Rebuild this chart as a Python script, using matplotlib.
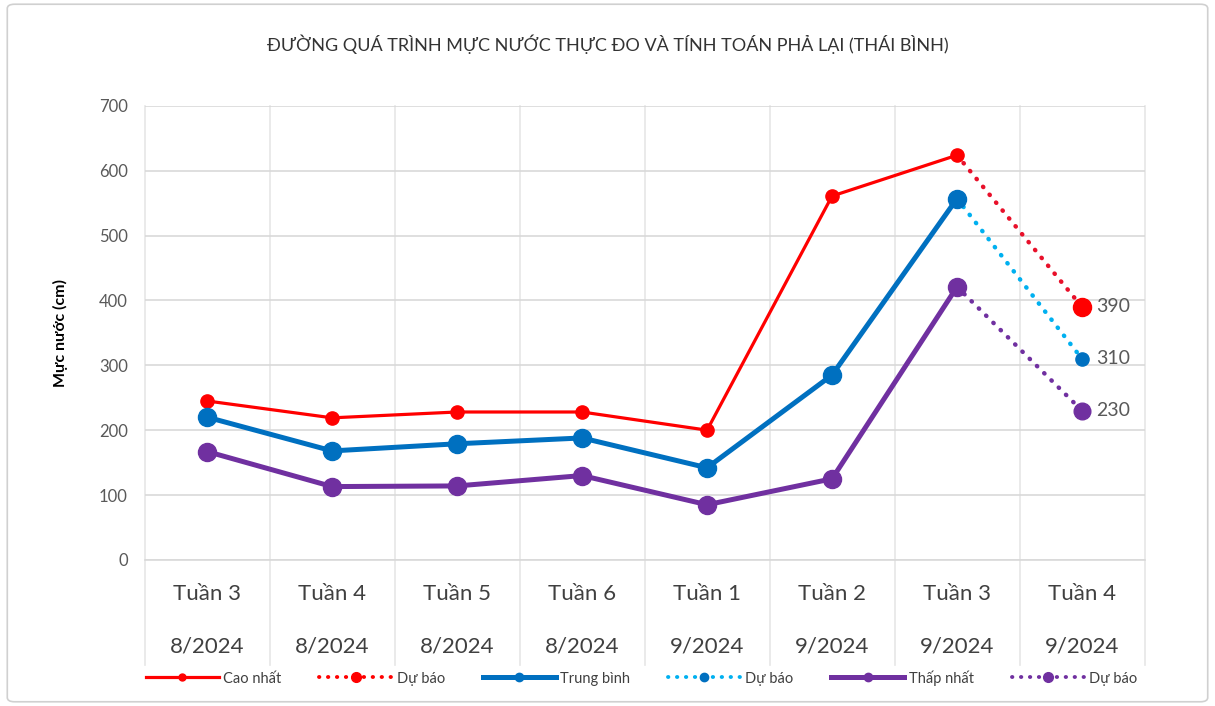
import numpy as np
import matplotlib.pyplot as plt
from matplotlib.patches import FancyBboxPatch
from matplotlib.lines import Line2D
import matplotlib.transforms as mtransforms

plt.rcParams['font.family'] = ['Lato', 'DejaVu Sans']

# categories
weeks = ['Tuần 3', 'Tuần 4', 'Tuần 5', 'Tuần 6', 'Tuần 1', 'Tuần 2', 'Tuần 3', 'Tuần 4']
months = ['8/2024', '8/2024', '8/2024', '8/2024', '9/2024', '9/2024', '9/2024', '9/2024']

# measured values (last week is forecast only)
cao_nhat = [245, 219, 228, 228, 200, 561, 624, np.nan]
trung_binh = [220, 168, 179, 188, 142, 285, 557, np.nan]
thap_nhat = [167, 113, 114, 130, 85, 125, 421, np.nan]

# forecast values
du_bao_cao = [np.nan] * 6 + [624, 390]
du_bao_tb = [np.nan] * 6 + [557, 310]
du_bao_thap = [np.nan] * 6 + [421, 230]

fig = plt.figure(figsize=(12.15, 7.06), dpi=100)
ax = fig.add_axes([0.119, 0.207, 0.823, 0.643])

x = np.arange(len(weeks))
red = '#FF0000'
blue = '#0070C0'
cyan = '#00B0F0'
purple = '#7030A0'
dot = (0, (0.1, 2.2))

ax.plot(x, cao_nhat, color=red, lw=2.3, marker='o', ms=9.5, zorder=3)
ax.plot(x, trung_binh, color=blue, lw=3.6, marker='o', ms=13, zorder=3)
ax.plot(x, thap_nhat, color=purple, lw=3.6, marker='o', ms=13, zorder=3)

ax.plot(x, du_bao_cao, color='#E8102A', lw=3.2, ls=dot, dash_capstyle='round', zorder=2)
ax.plot(x, du_bao_tb, color=cyan, lw=3.2, ls=dot, dash_capstyle='round', zorder=2)
ax.plot(x, du_bao_thap, color=purple, lw=3.2, ls=dot, dash_capstyle='round', zorder=2)
ax.plot(x[-1], du_bao_cao[-1], 'o', color=red, ms=13, zorder=4)
ax.plot(x[-1], du_bao_tb[-1], 'o', color=blue, ms=9.5, zorder=4)
ax.plot(x[-1], du_bao_thap[-1], 'o', color=purple, ms=12, zorder=4)

for vals in (du_bao_cao, du_bao_tb, du_bao_thap):
    ax.annotate(f'{vals[-1]:.0f}', (x[-1], vals[-1]), xytext=(10, 0), textcoords='offset points',
                va='center', ha='left', fontsize=14, color='#595959')

ax.set_xlim(-0.5, len(weeks) - 0.5)
ax.set_ylim(0, 700)
ax.set_yticks(range(0, 701, 100))
ax.yaxis.grid(True, color='#D9D9D9', lw=1.2)
ax.tick_params(axis='y', length=0, labelsize=12, labelcolor='#595959', pad=12)
ax.set_xticks([])
for s in ['top', 'right', 'left']:
    ax.spines[s].set_visible(False)
ax.spines['bottom'].set_color('#D9D9D9')
ax.spines['bottom'].set_linewidth(1.2)

# category boundaries (multi-level axis)
trans = mtransforms.blended_transform_factory(ax.transData, ax.transAxes)
for b in np.arange(-0.5, len(weeks), 1.0):
    ax.plot([b, b], [-0.232, 1.0], color='#E6E6E6', lw=1.2, transform=trans, clip_on=False, zorder=0)
for i, (w, m) in enumerate(zip(weeks, months)):
    ax.text(i, -0.075, w, transform=trans, ha='center', va='center', fontsize=16, color='#404040')
    ax.text(i, -0.19, m, transform=trans, ha='center', va='center', fontsize=16, color='#404040')

ax.set_ylabel('Mực nước (cm)', fontsize=11.5, fontweight='bold', labelpad=22)

fig.text(0.5, 0.938, 'ĐƯỜNG QUÁ TRÌNH MỰC NƯỚC THỰC ĐO VÀ TÍNH TOÁN PHẢ LẠI (THÁI BÌNH)',
         ha='center', va='center', fontsize=13, color='#333333')

handles = [
    Line2D([], [], color=red, lw=2.3, marker='o', ms=5),
    Line2D([], [], color=red, lw=2.8, ls=dot, dash_capstyle='round', marker='o', ms=7),
    Line2D([], [], color=blue, lw=3.6, marker='o', ms=6),
    Line2D([], [], color=cyan, lw=2.8, ls=dot, dash_capstyle='round', marker='o', ms=6, mfc=blue, mec=blue),
    Line2D([], [], color=purple, lw=3.6, marker='o', ms=6),
    Line2D([], [], color=purple, lw=2.8, ls=dot, dash_capstyle='round', marker='o', ms=7),
]
labels = ['Cao nhất', 'Dự báo', 'Trung bình', 'Dự báo', 'Thấp nhất', 'Dự báo']
fig.legend(handles, labels, loc='center', bbox_to_anchor=(0.528, 0.04), ncol=6, frameon=False,
           fontsize=10.5, handlelength=5, columnspacing=2.6, handletextpad=0.3,
           labelcolor='#404040')

border = FancyBboxPatch((0.006, 0.006), 0.988, 0.988, boxstyle='round,pad=0,rounding_size=0.006',
                        transform=fig.transFigure, fill=False, ec='#D0D0D0', lw=1.2)
fig.patches.append(border)

fig.savefig('out.png', dpi=100)
